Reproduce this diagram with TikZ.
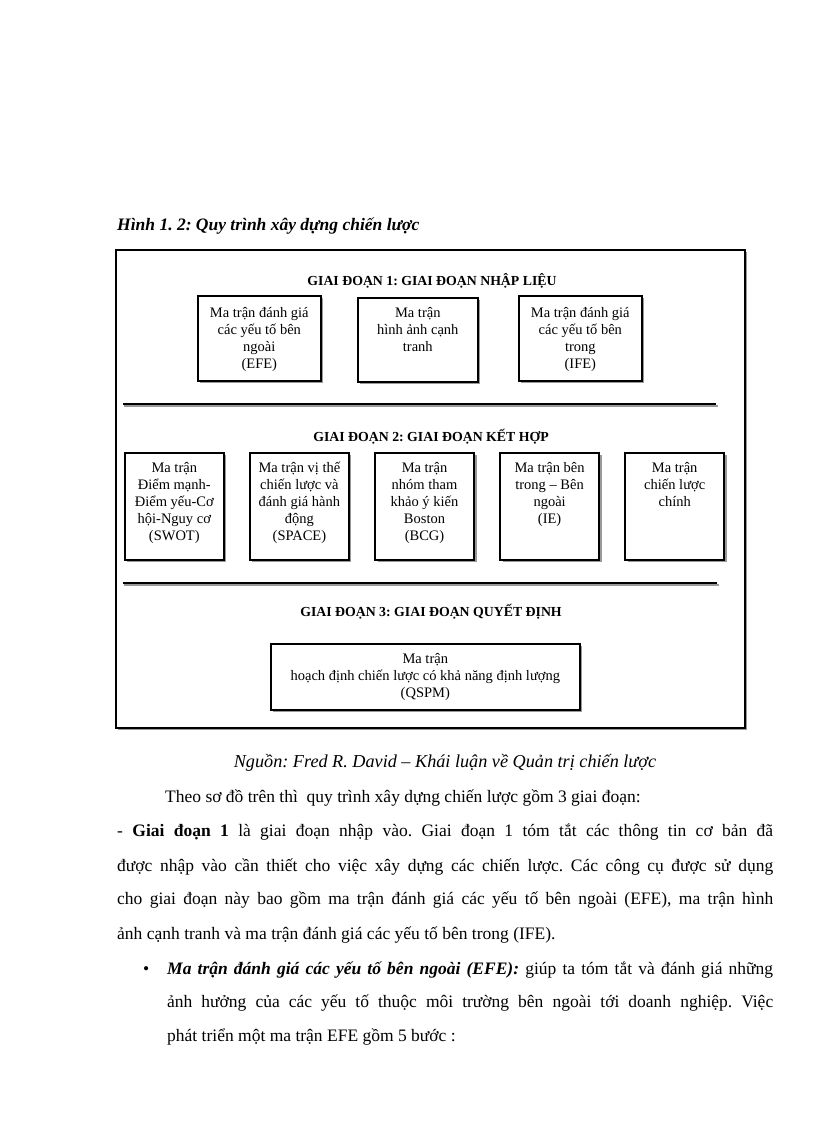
\documentclass[tikz,border=0pt]{standalone}
\usepackage{fontspec}
\setmainfont{Liberation Serif}
\usetikzlibrary{positioning,shadows}
\frenchspacing

\tikzset{
  matbox/.style={draw=black, line width=1.6pt, fill=white, inner sep=0pt, anchor=north west,
    drop shadow={shadow xshift=2.5pt, shadow yshift=-2.5pt, fill=black!40, opacity=1}},
  boxtxt/.style={anchor=north, align=center, inner sep=0pt, font=\fontsize{14.5}{17}\selectfont},
  phasehead/.style={inner sep=0pt, font=\bfseries\fontsize{13.8}{16}\selectfont},
  bodyline/.style={anchor=base west, inner sep=0pt, font=\fontsize{17.5}{20}\selectfont},
}

\begin{document}
\begin{tikzpicture}[x=1pt, y=-1pt]
    \useasboundingbox[fill=white] (0,0) rectangle (816,1123);

    % caption
    \node[anchor=base west, inner sep=0pt, font=\bfseries\itshape\fontsize{17.5}{20}\selectfont] (caption) at (117,230) {Hình 1. 2: Quy trình xây dựng chiến lược};

    % outer frame
    \draw[line width=1.3pt, fill=white, drop shadow={shadow xshift=2pt, shadow yshift=-2pt, fill=black!40, opacity=1}] (116,250) rectangle (745,728);

    % phase 1
    \node[phasehead] (head1) at (432,281) {GIAI ĐOẠN 1: GIAI ĐOẠN NHẬP LIỆU};
    \node[matbox, minimum width=123pt, minimum height=85pt] (efe) at (197,295) {};
    \node[matbox, minimum width=120pt, minimum height=84pt] (cpm) at (357,297) {};
    \node[matbox, minimum width=123pt, minimum height=85pt] (ife) at (518,295) {};
    \node[boxtxt] (efe-t) at ([yshift=-12pt]efe.north) {Ma trận đánh giá\\các yếu tố bên\\ngoài\\(EFE)};
    \node[boxtxt] (cpm-t) at ([yshift=-10pt]cpm.north) {Ma trận\\hình ảnh cạnh\\tranh};
    \node[boxtxt] (ife-t) at ([yshift=-12pt]ife.north) {Ma trận đánh giá\\các yếu tố bên\\trong\\(IFE)};

    \draw[line width=1.8pt, black!40] (124,406) -- (718,406);
    \draw[line width=1.8pt] (123,404) -- (716,404);

    % phase 2
    \node[phasehead] (head2) at (431,437) {GIAI ĐOẠN 2: GIAI ĐOẠN KẾT HỢP};
    \node[matbox, minimum width=99pt, minimum height=107pt] (swot) at (124,452) {};
    \node[matbox, minimum width=99pt, minimum height=107pt, right=24.5pt of swot] (space) {};
    \node[matbox, minimum width=99pt, minimum height=107pt, right=24.5pt of space] (bcg) {};
    \node[matbox, minimum width=99pt, minimum height=107pt, right=24.5pt of bcg] (ie) {};
    \node[matbox, minimum width=99pt, minimum height=107pt, right=24.5pt of ie] (grand) {};
    \node[boxtxt] (swot-t) at ([yshift=-10pt]swot.north) {Ma trận\\Điểm mạnh-\\Điểm yếu-Cơ\\hội-Nguy cơ\\(SWOT)};
    \node[boxtxt] (space-t) at ([yshift=-10pt]space.north) {Ma trận vị thế\\chiến lược và\\đánh giá hành\\động\\(SPACE)};
    \node[boxtxt] (bcg-t) at ([yshift=-10pt]bcg.north) {Ma trận\\nhóm tham\\khảo ý kiến\\Boston\\(BCG)};
    \node[boxtxt] (ie-t) at ([yshift=-10pt]ie.north) {Ma trận bên\\trong – Bên\\ngoài\\(IE)};
    \node[boxtxt] (grand-t) at ([yshift=-10pt]grand.north) {Ma trận\\chiến lược\\chính};

    \draw[line width=1.8pt, black!40] (124,585) -- (719,585);
    \draw[line width=1.8pt] (123,583) -- (717,583);

    % phase 3
    \node[phasehead] (head3) at (431,612) {GIAI ĐOẠN 3: GIAI ĐOẠN QUYẾT ĐỊNH};
    \node[matbox, minimum width=309pt, minimum height=66pt] (qspm) at (270,643) {};
    \node[boxtxt] (qspm-t) at ([yshift=-10pt]qspm.north) {Ma trận\\hoạch định chiến lược có khả năng định lượng\\(QSPM)};

    % source and body text
    \node[anchor=base, inner sep=0pt, font=\itshape\fontsize{18.2}{20}\selectfont] (source) at (445,767) {Nguồn: Fred R. David – Khái luận về Quản trị chiến lược};
    \node[bodyline] (l1) at (165,802) {Theo sơ đồ trên thì\ \ quy trình xây dựng chiến lược gồm 3 giai đoạn:};
    \node[bodyline] (l2) at (117,836) {\makebox[656pt][s]{- \textbf{Giai đoạn 1} là giai đoạn nhập vào. Giai đoạn 1 tóm tắt các thông tin cơ bản đã}};
    \node[bodyline] (l3) at (117,871) {\makebox[656pt][s]{được nhập vào cần thiết cho việc xây dựng các chiến lược. Các công cụ được sử dụng}};
    \node[bodyline] (l4) at (117,904) {\makebox[656pt][s]{cho giai đoạn này bao gồm ma trận đánh giá các yếu tố bên ngoài (EFE), ma trận hình}};
    \node[bodyline] (l5) at (117,939) {ảnh cạnh tranh và ma trận đánh giá các yếu tố bên trong (IFE).};
    \node[bodyline] (bullet) at (143,974) {•};
    \node[bodyline] (l6) at (167,974) {\makebox[606pt][s]{\textbf{\textit{Ma trận đánh giá các yếu tố bên ngoài (EFE):}} giúp ta tóm tắt và đánh giá những}};
    \node[bodyline] (l7) at (167,1007) {\makebox[606pt][s]{ảnh hưởng của các yếu tố thuộc môi trường bên ngoài tới doanh nghiệp. Việc}};
    \node[bodyline] (l8) at (167,1041) {phát triển một ma trận EFE gồm 5 bước :};
\end{tikzpicture}
\end{document}
